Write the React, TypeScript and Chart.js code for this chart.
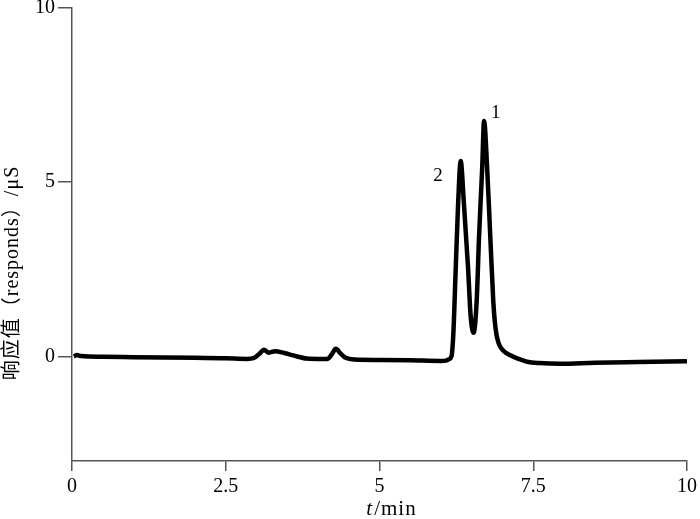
import React, { useEffect, useRef } from "react";
import { Chart, registerables } from "chart.js";

Chart.register(...registerables);

// Retention time (min)
const times = [
  0.03, 0.08, 0.15, 0.5, 1.0, 1.5, 2.0, 2.5, 2.85, 2.95, 3.05, 3.12, 3.2, 3.3, 3.45, 3.6, 3.82,
  4.0, 4.15, 4.22, 4.29, 4.37, 4.45, 4.6, 5.0, 5.5, 6.0, 6.08, 6.13, 6.17, 6.2, 6.24, 6.28, 6.32,
  6.37, 6.44, 6.48, 6.53, 6.58, 6.62, 6.67, 6.7, 6.75, 6.8, 6.85, 6.875, 6.9, 6.93, 6.97, 7.03,
  7.12, 7.25, 7.4, 7.6, 7.95, 8.5, 9.2, 10.0,
];
// Response (µS)
const responses = [
  0.0, 0.04, 0.01, -0.01, -0.02, -0.03, -0.04, -0.05, -0.07, -0.05, 0.08, 0.19, 0.11, 0.15, 0.1,
  0.03, -0.06, -0.07, -0.07, 0.05, 0.22, 0.08, -0.04, -0.09, -0.1, -0.11, -0.13, -0.12, -0.08,
  0.0, 0.63, 2.55, 4.46, 5.61, 4.46, 2.55, 1.21, 0.68, 1.59, 3.5, 5.42, 6.76, 5.42, 3.5, 1.59,
  1.0, 0.65, 0.42, 0.26, 0.14, 0.04, -0.06, -0.15, -0.19, -0.21, -0.18, -0.16, -0.14,
];

const xTicks = [0, 2.5, 5, 7.5, 10];
const yTicks = [0, 5, 10];

// Peak labels
const peakNames = ["1", "2"];
const peakLabelT = [6.89, 5.95];
const peakLabelV = [6.99, 5.18];

const xTitleItalic = "t";
const xTitleRest = "/min";
const yTitle = "响应值（responds）/μS";

const FONT = '"Liberation Serif", "Noto Sans CJK SC", serif';
const AXIS_COLOR = "#555555";

export default function App() {
  const ref = useRef<HTMLCanvasElement | null>(null);

  useEffect(() => {
    if (!ref.current) return;
    const textPlugin = {
      id: "extraText",
      afterDraw(chart: any) {
        const ctx = chart.ctx;
        const xs = chart.scales.x;
        const ys = chart.scales.y;
        ctx.save();
        ctx.fillStyle = "#000";
        ctx.textBaseline = "middle";
        // peak labels
        ctx.font = `19px ${FONT}`;
        ctx.textAlign = "center";
        peakNames.forEach((n, i) => {
          ctx.fillText(n, xs.getPixelForValue(peakLabelT[i]), ys.getPixelForValue(peakLabelV[i]));
        });
        // x title
        const cx = 391;
        const ty = 509;
        ctx.letterSpacing = "1px";
        ctx.font = `italic 21px ${FONT}`;
        const w1 = ctx.measureText(xTitleItalic).width;
        ctx.font = `21px ${FONT}`;
        const w2 = ctx.measureText(xTitleRest).width;
        const start = cx - (w1 + w2) / 2;
        ctx.textAlign = "left";
        ctx.font = `italic 21px ${FONT}`;
        ctx.fillText(xTitleItalic, start, ty);
        ctx.font = `21px ${FONT}`;
        ctx.fillText(xTitleRest, start + w1 + 1, ty);
        // y title
        ctx.translate(13, 273);
        ctx.rotate(-Math.PI / 2);
        ctx.textAlign = "center";
        ctx.letterSpacing = "1px";
        ctx.font = `20px ${FONT}`;
        ctx.fillText(yTitle, 0, 0);
        ctx.restore();
      },
    };

    const chart = new Chart(ref.current, {
      type: "line",
      data: {
        datasets: [
          {
            data: times.map((t, i) => ({ x: t, y: responses[i] })),
            borderColor: "#000",
            borderWidth: 4.5,
            pointRadius: 0,
            fill: false,
            cubicInterpolationMode: "monotone",
          },
        ],
      },
      options: {
        animation: false,
        responsive: false,
        maintainAspectRatio: false,
        layout: { padding: { top: 8, right: 13, left: 0, bottom: 0 } },
        plugins: { legend: { display: false }, tooltip: { enabled: false } },
        scales: {
          x: {
            type: "linear",
            min: 0,
            max: 10,
            afterBuildTicks: (axis: any) => {
              axis.ticks = xTicks.map((v) => ({ value: v }));
            },
            afterFit: (s: any) => {
              s.height = 58;
              s.paddingLeft = 0;
              s.paddingRight = 0;
            },
            border: { color: AXIS_COLOR, width: 1.5 },
            grid: { drawOnChartArea: false, tickLength: 10, color: AXIS_COLOR, lineWidth: 1.5 },
            ticks: {
              color: "#000",
              padding: 4,
              maxRotation: 0,
              font: { family: FONT, size: 20 },
              callback: (v: any) => String(v),
            },
          },
          y: {
            min: -3,
            max: 10,
            afterBuildTicks: (axis: any) => {
              axis.ticks = yTicks.map((v) => ({ value: v }));
            },
            afterFit: (s: any) => {
              s.width = 72;
              s.paddingTop = 0;
              s.paddingBottom = 0;
            },
            border: { color: AXIS_COLOR, width: 1.5 },
            grid: { drawOnChartArea: false, tickLength: 14, color: AXIS_COLOR, lineWidth: 1.5 },
            ticks: {
              color: "#000",
              padding: 3,
              font: { family: FONT, size: 20 },
              callback: (v: any) => String(v),
            },
          },
        },
      },
      plugins: [textPlugin],
    } as any);
    return () => chart.destroy();
  }, []);

  return (
    <div style={{ position: "absolute", left: 0, top: 0, width: 700, height: 519, background: "#fff" }}>
      <canvas ref={ref} width={700} height={519} style={{ width: 700, height: 519 }} />
    </div>
  );
}
